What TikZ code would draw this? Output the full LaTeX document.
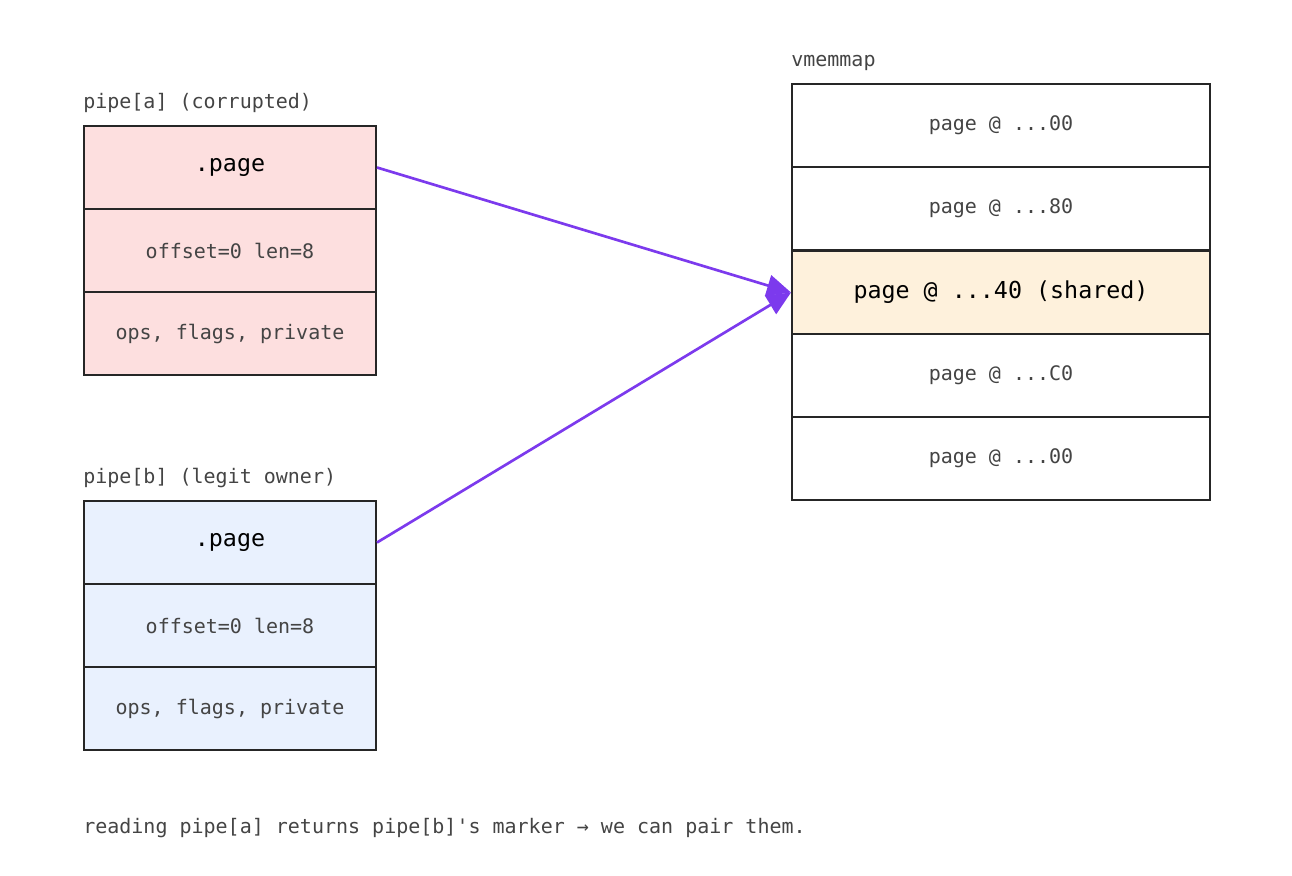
\documentclass[tikz,border=0pt]{standalone}
\usepackage{fontspec}
\setmonofont{DejaVu Sans Mono}
\usetikzlibrary{arrows.meta}
\definecolor{pinkfill}{HTML}{FDDFDF}
\definecolor{bluefill}{HTML}{E9F1FE}
\definecolor{sharedfill}{HTML}{FEF1DC}
\definecolor{textgrey}{HTML}{444444}
\definecolor{ptrpurple}{HTML}{7C3AED}
\begin{document}
\begin{tikzpicture}[x=0.75pt, y=-0.75pt]
  \tikzstyle{cell}=[rectangle, draw=black!85, line width=1.5pt, inner sep=0pt, font=\ttfamily\fontsize{15}{17}\selectfont, text=textgrey]
  \tikzstyle{bigtext}=[font=\ttfamily\fontsize{17.5}{20}\selectfont, text=black]
  \tikzstyle{caption}=[anchor=base west, inner sep=0pt, font=\ttfamily\fontsize{15}{17}\selectfont, text=textgrey]
  \tikzstyle{pointer}=[draw=ptrpurple, line width=2pt, -{Triangle[length=18pt, width=16pt]}]

  \useasboundingbox (0,0) rectangle (1292,875);

  % pipe[a]
  \node[caption] (capa) at (83,108) {pipe[a] (corrupted)};
  \node[cell, fill=pinkfill, minimum width=219pt, minimum height=62.25pt, anchor=north west, bigtext] (apage) at (83,125) {.page};
  \node[cell, fill=pinkfill, minimum width=219pt, minimum height=62.25pt, anchor=north west] (aoff) at (83,208) {offset=0 len=8};
  \node[cell, fill=pinkfill, minimum width=219pt, minimum height=62.25pt, anchor=north west] (aops) at (83,291) {ops, flags, private};

  % pipe[b]
  \node[caption] (capb) at (83,483) {pipe[b] (legit owner)};
  \node[cell, fill=bluefill, minimum width=219pt, minimum height=62.25pt, anchor=north west, bigtext] (bpage) at (83,500) {.page};
  \node[cell, fill=bluefill, minimum width=219pt, minimum height=62.25pt, anchor=north west] (boff) at (83,583) {offset=0 len=8};
  \node[cell, fill=bluefill, minimum width=219pt, minimum height=62.25pt, anchor=north west] (bops) at (83,666) {ops, flags, private};

  % vmemmap
  \node[caption] (capv) at (791,66) {vmemmap};
  \node[cell, fill=white, minimum width=313.5pt, minimum height=62.25pt, anchor=north west] (v0) at (791,83) {page @ ...00};
  \node[cell, fill=white, minimum width=313.5pt, minimum height=62.25pt, anchor=north west] (v1) at (791,166) {page @ ...80};
  \node[cell, fill=sharedfill, minimum width=313.5pt, minimum height=62.25pt, anchor=north west, bigtext] (v2) at (791,250) {page @ ...40 (shared)};
  \node[cell, fill=white, minimum width=313.5pt, minimum height=62.25pt, anchor=north west] (v3) at (791,333) {page @ ...C0};
  \node[cell, fill=white, minimum width=313.5pt, minimum height=62.25pt, anchor=north west] (v4) at (791,416) {page @ ...00};

  \path[pointer] (apage.east) -- (v2.west);
  \path[pointer] (bpage.east) -- (v2.west);

  \node[caption] (note) at (83,833) {reading pipe[a] returns pipe[b]'s marker → we can pair them.};
\end{tikzpicture}
\end{document}
